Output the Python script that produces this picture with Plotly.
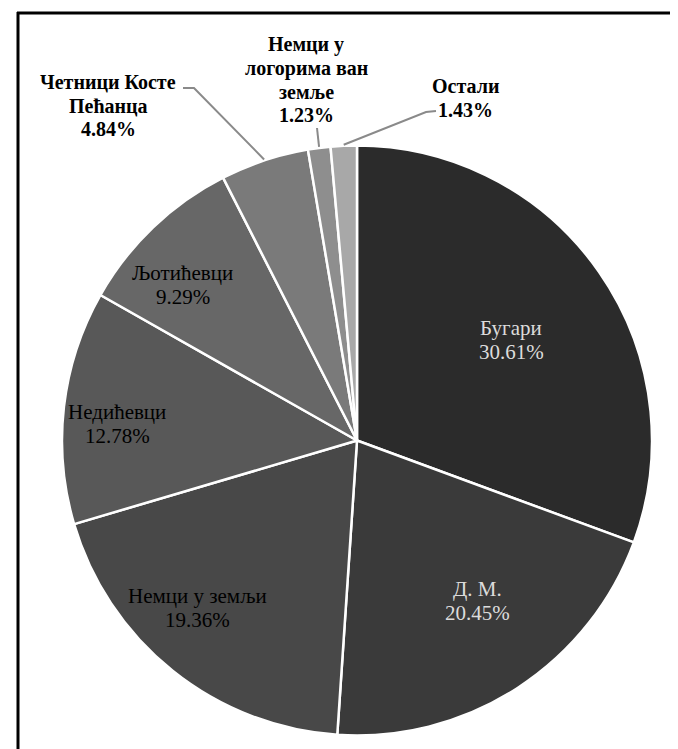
import math
import plotly.graph_objects as go

# ---- data ----
categories = ["Бугари", "Д. М.", "Немци у земљи", "Недићевци", "Љотићевци",
              "Четници Косте Пећанца", "Немци у логорима ван земље", "Остали"]
shares = [30.61, 20.45, 19.36, 12.78, 9.29, 4.84, 1.23, 1.43]
display_names = ["Бугари", "Д. М.", "Немци у земљи", "Недићевци", "Љотићевци",
                 "Четници Косте<br>Пећанца", "Немци у<br>логорима ван<br>земље", "Остали"]

# ---- styles / layout ----
W, H = 678, 749
CX, CY, R = 349.0, 432.5, 295.0
colors = ["#2b2b2b", "#3a3a3a", "#484848", "#585858", "#676767",
          "#7a7a7a", "#8e8e8e", "#a8a8a8"]
label_colors = ["#dcdcdc", "#dcdcdc", "#000000", "#000000", "#000000",
                "#000000", "#000000", "#000000"]
outside = [False, False, False, False, False, True, True, True]
label_pos_px = [(503, 332), (469, 593), (189, 600), (109, 416), (175, 277),
                (100, 98), (298, 72), (457, 90)]
LINE_STEP = 23.5
INSIDE_SIZE = 21
OUTSIDE_SIZE = 20
# leader line points near the label (pixels), listed from label towards the pie
leader_paths = {
    5: [(175, 80), (186, 80)],
    6: [(309, 120)],
    7: [(428, 103), (418, 104)],
}


def px2paper(x, y):
    return x / W, 1 - y / H


fig = go.Figure(go.Pie(
    labels=categories,
    values=shares,
    sort=False,
    direction="clockwise",
    rotation=0,
    marker=dict(colors=colors, line=dict(color="white", width=2.5)),
    textinfo="none",
    hoverinfo="label+percent",
    showlegend=False,
    domain=dict(x=[(CX - R) / W, (CX + R) / W],
                y=[(H - CY - R) / H, (H - CY + R) / H]),
))

annotations = []
for i, (name, val) in enumerate(zip(display_names, shares)):
    lines = name.split("<br>") + [f"{val:.2f}%"]
    n = len(lines)
    cx, cy = label_pos_px[i]
    for k, line in enumerate(lines):
        ly = cy + (k - (n - 1) / 2) * LINE_STEP
        x, y = px2paper(cx, ly)
        txt = f"<b>{line}</b>" if outside[i] else line
        annotations.append(dict(
            x=x, y=y, xref="paper", yref="paper", text=txt, showarrow=False,
            xanchor="center", yanchor="middle", align="center",
            font=dict(family="Liberation Serif",
                      size=OUTSIDE_SIZE if outside[i] else INSIDE_SIZE,
                      color=label_colors[i]),
        ))

shapes = []
total = sum(shares)
cum = 0.0
for i, v in enumerate(shares):
    mid = (cum + v / 2) / total * 2 * math.pi
    cum += v
    if i in leader_paths:
        sx = CX + (R + 1) * math.sin(mid)
        sy = CY - (R + 1) * math.cos(mid)
        pts = [(sx, sy)] + list(reversed(leader_paths[i]))
        path = ""
        for k, (px, py) in enumerate(pts):
            xp, yp = px2paper(px, py)
            path += ("M" if k == 0 else "L") + f"{xp:.5f},{yp:.5f} "
        shapes.append(dict(type="path", path=path.strip(), xref="paper", yref="paper",
                           line=dict(color="#8a8a8a", width=2)))

# frame lines (top and left)
shapes.append(dict(type="line", xref="paper", yref="paper",
                   x0=9 / W, x1=1, y0=1 - 5 / H, y1=1 - 5 / H,
                   line=dict(color="black", width=3)))
shapes.append(dict(type="line", xref="paper", yref="paper",
                   x0=10 / W, x1=10 / W, y0=0, y1=1 - 4 / H,
                   line=dict(color="black", width=3)))

fig.update_layout(
    width=W, height=H,
    margin=dict(l=0, r=0, t=0, b=0),
    paper_bgcolor="white", plot_bgcolor="white",
    annotations=annotations,
    shapes=shapes,
)

fig.write_html("out.html", config={"displayModeBar": False})
